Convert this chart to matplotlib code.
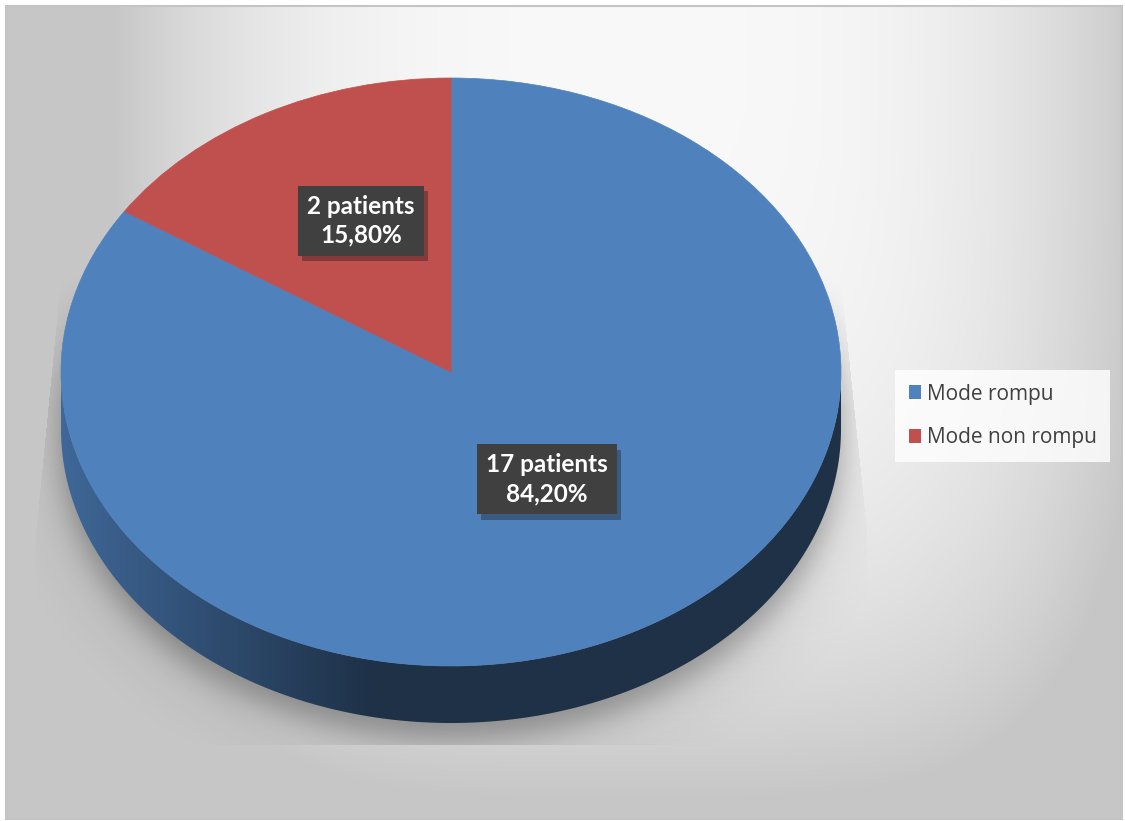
import numpy as np
import matplotlib
matplotlib.use('Agg')
import matplotlib.pyplot as plt
import matplotlib.patheffects as pe
from matplotlib.patches import Wedge, Polygon, Rectangle, Patch
from matplotlib.path import Path
from matplotlib.transforms import Affine2D

# données
categories = ['Mode rompu', 'Mode non rompu']
patients = [17, 2]
percentages = [84.20, 15.80]
colors = ['#4f81bd', '#c0504d']

# mise en page (pixels)
W, H = 1125, 821
CX, CY = 451, 372        # centre de la face supérieure
RX, RY = 390, 294        # demi-axes de l'ellipse
DEPTH = 57               # épaisseur du camembert 3D
FRAME = (6, 6, 1122, 819)

plt.rcParams['hatch.color'] = '#4e4e4e'
plt.rcParams['hatch.linewidth'] = 0.6


def gaussian_blur(img, sigma):
    k = np.arange(-3 * sigma, 3 * sigma + 1)
    g = np.exp(-0.5 * (k / sigma) ** 2)
    g /= g.sum()
    out = np.apply_along_axis(lambda m: np.convolve(m, g, mode='same'), 0, img)
    out = np.apply_along_axis(lambda m: np.convolve(m, g, mode='same'), 1, out)
    return out


def cylinder_mask(xx, yy, cx, cy, rx, ry, depth):
    dy = yy - np.clip(yy, cy, cy + depth)
    r = np.sqrt(((xx - cx) / rx) ** 2 + (dy / ry) ** 2)
    return (r <= 1).astype(float)


fig = plt.figure(figsize=(W / 100, H / 100), dpi=100)
fig.patch.set_facecolor('white')
ax = fig.add_axes([0, 0, 1, 1])
ax.set_xlim(0, W)
ax.set_ylim(H, 0)
ax.axis('off')

# fond dégradé de la zone de graphique
x0, y0, x1, y1 = FRAME
yy, xx = np.mgrid[y0:y1, x0:x1] + 0.5
t = ((np.abs(xx - 630) / 490) ** 4 + (yy / 760) ** 4) ** 0.25
shade = 0.975 - 0.17 * np.clip(t, 0, 1.05) ** 3
bg = np.dstack([shade, shade, shade])
ax.imshow(bg, extent=(x0, x1, y1, y0), interpolation='bilinear', zorder=0)
ax.add_patch(Rectangle((x0, y0), x1 - x0, y1 - y0, fill=False,
                       ec='#c4c4c4', lw=1.5, zorder=10))

# ombre portée sous le camembert
gy, gx = np.mgrid[0:H, 0:W] + 0.5
soft = gaussian_blur(cylinder_mask(gx, gy, CX, CY + 14, RX, RY * 1.01, DEPTH), 13)
wide = gaussian_blur(cylinder_mask(gx, gy, CX, CY + 20, RX, RY, DEPTH), 35)
fade = np.clip((gy - 270) / 140, 0, 1)
clip_poly = [(62, 270), (840, 270), (867, 530), (867, 745), (35, 745), (35, 545)]
inside = Path(clip_poly).contains_points(
    np.column_stack([gx.ravel(), gy.ravel()])).reshape(gx.shape)
alpha = inside * (0.22 * soft + 0.14 * wide) * fade
shadow = np.zeros((H, W, 4))
shadow[..., 3] = np.clip(alpha, 0, 0.3)
ax.imshow(shadow, extent=(0, W, H, 0), interpolation='bilinear', zorder=1)

# angles des parts (sens horaire depuis midi)
total = sum(percentages)
spans = []
start = 90.0
for p in percentages:
    end = start - 360.0 * p / total
    spans.append((end, start))
    start = end

# flanc avant (angles 180..360)
for (t1, t2), col in zip(spans, colors):
    for k in (-1, 0, 1):
        lo = max(t1, 180 + 360 * k)
        hi = min(t2, 360 + 360 * k)
        if hi <= lo:
            continue
        th = np.radians(np.linspace(lo, hi, 200))
        top = np.column_stack([CX + RX * np.cos(th), CY - RY * np.sin(th)])
        bot = np.column_stack([CX + RX * np.cos(th[::-1]), CY + DEPTH - RY * np.sin(th[::-1])])
        side = Polygon(np.vstack([top, bot]), closed=True, fc='none', ec='none', zorder=2)
        ax.add_patch(side)
        base = np.array(matplotlib.colors.to_rgb(col))
        xs = np.linspace(CX - RX, CX + RX, 400)
        s = np.clip((xs - (CX - RX)) / 310, 0, 1)
        fac = 0.8 - 0.42 * s
        grad = fac[None, :, None] * base[None, None, :]
        im = ax.imshow(grad, extent=(CX - RX, CX + RX, CY + RY + DEPTH + 2, CY - 2),
                       aspect='auto', interpolation='bilinear', zorder=2)
        im.set_clip_path(side)

# face supérieure
ell = Affine2D().scale(RX, -RY).translate(CX, CY) + ax.transData
for (t1, t2), col in zip(spans, colors):
    ax.add_patch(Wedge((0, 0), 1, t1, t2, fc=col, ec=col, lw=0.5,
                       transform=ell, zorder=3))

# étiquettes de données
for (t1, t2), n, p in zip(spans, patients, percentages):
    m = np.radians((t1 + t2) / 2)
    lx = CX + 0.5 * RX * np.cos(m)
    ly = CY - 0.5 * RY * np.sin(m) - 22
    txt = f"{n} patients\n{p:.2f}%".replace('.', ',')
    lab = ax.text(lx + 3, ly, txt, ha='center', va='center', family='Lato',
                  fontweight='bold', fontsize=17.5, color='white',
                  linespacing=1.3, zorder=5,
                  bbox=dict(boxstyle='square,pad=0.38', fc='#404040', ec='none',
                            hatch='...'))
    lab.get_bbox_patch().set_path_effects(
        [pe.SimplePatchShadow(offset=(3, -4), alpha=0.35), pe.Normal()])

# légende
handles = [Patch(fc=c, ec='none', label=l) for c, l in zip(colors, categories)]
leg = fig.legend(handles=handles, loc='upper left',
                 bbox_to_anchor=(895 / W, 1 - 370 / H), frameon=True,
                 prop={'family': 'Open Sans', 'size': 15},
                 handlelength=0.62, handleheight=0.62, handletextpad=0.25,
                 labelspacing=1.1, borderpad=0.65, borderaxespad=0,
                 fancybox=False, labelcolor='#404040')
leg.get_frame().set_facecolor((1, 1, 1, 0.2))
leg.get_frame().set_edgecolor('none')

fig.savefig('out.png', dpi=100)
